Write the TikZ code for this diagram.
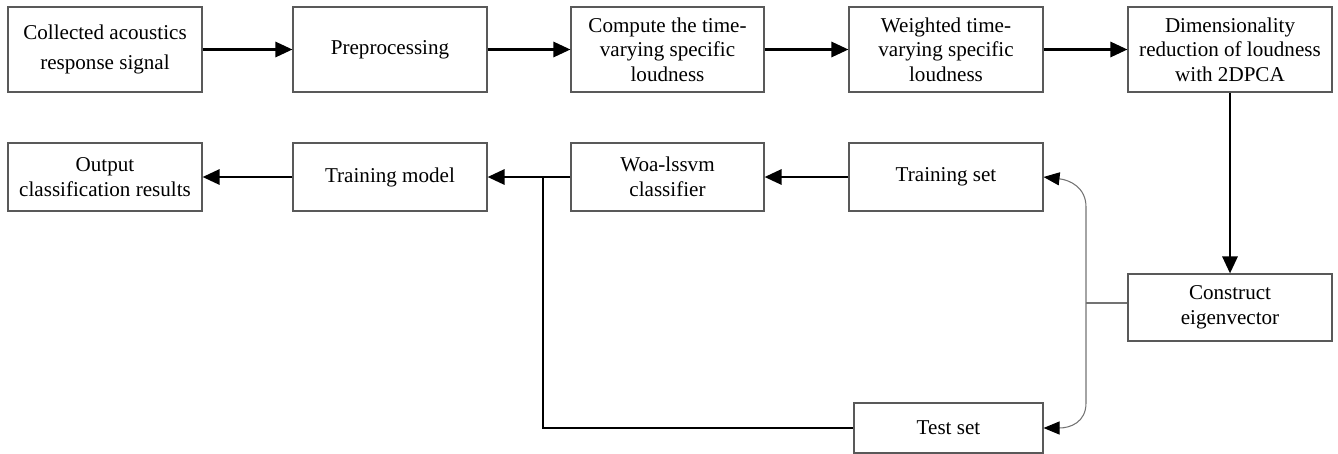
\documentclass[tikz,border=0pt]{standalone}
\usepackage{fontspec}
\setmainfont{Liberation Serif}
\usetikzlibrary{arrows.meta}
\begin{document}
\begin{tikzpicture}[
    box/.style={draw=black!65, line width=0.6pt, fill=white, align=center,
        inner sep=0pt, font=\fontsize{12}{14}\selectfont},
    flow/.style={line width=1.6pt, -{Triangle[length=0.34cm,width=0.3cm]}},
    thin/.style={draw=black!55, line width=0.6pt},
    tip/.style={-{Triangle[length=0.32cm,width=0.26cm,color=black]}}
    ]
    \useasboundingbox (0,0) rectangle (26.76,-9.06);
    % first row
    \node[box, minimum width=3.88cm, minimum height=1.7cm] (collect) at (2.10,-0.99) {Collected acoustics\\[3pt]response signal};
    \node[box, minimum width=3.88cm, minimum height=1.7cm] (prep) at (7.80,-0.99) {Preprocessing};
    \node[box, minimum width=3.86cm, minimum height=1.7cm] (loud) at (13.35,-0.99) {Compute the time-\\varying specific\\loudness};
    \node[box, minimum width=3.88cm, minimum height=1.7cm] (weight) at (18.92,-0.99) {Weighted time-\\varying specific\\loudness};
    \node[box, minimum width=4.08cm, minimum height=1.7cm] (reduce) at (24.60,-0.99) {Dimensionality\\reduction of loudness\\with 2DPCA};
    % second row
    \node[box, minimum width=3.88cm, minimum height=1.36cm] (output) at (2.10,-3.54) {Output\\classification results};
    \node[box, minimum width=3.88cm, minimum height=1.36cm] (model) at (7.80,-3.54) {Training model};
    \node[box, minimum width=3.86cm, minimum height=1.36cm] (woa) at (13.35,-3.54) {Woa-lssvm\\classifier};
    \node[box, minimum width=3.88cm, minimum height=1.36cm] (train) at (18.92,-3.54) {Training set};
    \node[box, minimum width=4.08cm, minimum height=1.34cm] (eigen) at (24.60,-6.15) {Construct\\eigenvector};
    \node[box, minimum width=3.78cm, minimum height=1.0cm] (test) at (18.97,-8.56) {Test set};

    \draw[flow] (collect) -- (prep);
    \draw[flow] (prep) -- (loud);
    \draw[flow] (loud) -- (weight);
    \draw[flow] (weight) -- (reduce);
    \draw[flow] (reduce) -- (eigen);
    \draw[flow] (train) -- (woa);
    \draw[flow] (woa) -- (model);
    \draw[flow] (model) -- (output);

    \coordinate (split) at (10.86,-3.54);
    \draw[line width=1.6pt] (split) |- (test.west);

    \coordinate (join) at (21.72,-6.06);
    \draw[thin] (eigen.west |- join) -- (join);
    \draw[thin, tip] (join) -- (21.72,-4.14)
        .. controls (21.72,-3.75) and (21.4,-3.6) .. (train.east);
    \draw[thin, tip] (join) -- (21.72,-8.06)
        .. controls (21.72,-8.45) and (21.4,-8.56) .. (test.east);
\end{tikzpicture}
\end{document}
